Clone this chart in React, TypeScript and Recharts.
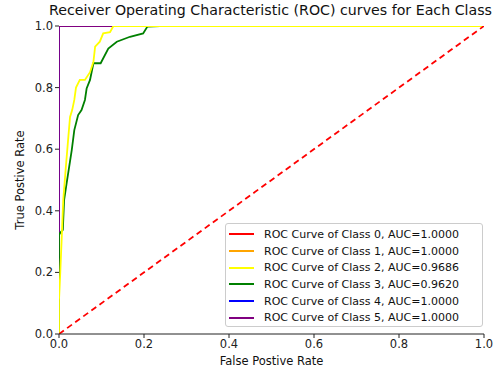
import { LineChart, Line, XAxis, YAxis } from 'recharts';

const classNames = ['Class 0', 'Class 1', 'Class 2', 'Class 3', 'Class 4', 'Class 5'];
const aucValues = ['1.0000', '1.0000', '0.9686', '0.9620', '1.0000', '1.0000'];
const classColors = ['#ff0000', '#ffa500', '#ffff00', '#008000', '#0000ff', '#800080'];

const ticks = [0, 0.2, 0.4, 0.6, 0.8, 1.0];

// perfect classifiers (AUC = 1)
const perfectFpr = [0, 0, 1];
const perfectTpr = [0, 1, 1];

const class2Fpr = [0, 0, 0.003, 0.006, 0.01, 0.016, 0.022, 0.026, 0.031, 0.036, 0.04, 0.049, 0.061, 0.073, 0.081, 0.085, 0.096, 0.104, 0.12, 0.128, 1];
const class2Tpr = [0, 0.11, 0.2, 0.3, 0.435, 0.54, 0.64, 0.705, 0.727, 0.76, 0.8, 0.825, 0.825, 0.85, 0.884, 0.933, 0.949, 0.976, 0.98, 1.0, 1.0];

const class3Fpr = [0, 0, 0.002, 0.009, 0.012, 0.018, 0.03, 0.036, 0.045, 0.053, 0.061, 0.065, 0.073, 0.081, 0.098, 0.116, 0.136, 0.167, 0.198, 0.208, 0.238, 1];
const class3Tpr = [0, 0.32, 0.327, 0.338, 0.435, 0.49, 0.597, 0.662, 0.711, 0.727, 0.76, 0.797, 0.825, 0.879, 0.879, 0.927, 0.949, 0.965, 0.976, 0.998, 1.0, 1.0];

const chanceFpr = [0, 1];
const chanceTpr = [0, 1];

const toPoints = (fpr: number[], tpr: number[]) => fpr.map((x, i) => ({ x, y: tpr[i] }));

const curves = [
  toPoints(perfectFpr, perfectTpr),
  toPoints(perfectFpr, perfectTpr),
  toPoints(class2Fpr, class2Tpr),
  toPoints(class3Fpr, class3Tpr),
  toPoints(perfectFpr, perfectTpr),
  toPoints(perfectFpr, perfectTpr),
];

// draw order so the yellow curve sits on top like the reference
const drawOrder = [0, 1, 4, 5, 3, 2];

const font = '"DejaVu Sans", sans-serif';

function RocLegend() {
  return (
    <div
      style={{
        position: 'absolute',
        left: 225,
        top: 223,
        width: 258,
        height: 104,
        border: '1px solid #cccccc',
        borderRadius: 3,
        background: 'rgba(255,255,255,0.85)',
        fontSize: 11,
        color: '#111',
        paddingTop: 2,
        boxSizing: 'border-box',
      }}
    >
      {classNames.map((name, i) => (
        <div key={name} style={{ display: 'flex', alignItems: 'center', height: 16.7 }}>
          <div style={{ width: 25, height: 2, background: classColors[i], marginLeft: 3, marginRight: 10 }} />
          <span>{`ROC Curve of ${name}, AUC=${aucValues[i]}`}</span>
        </div>
      ))}
    </div>
  );
}

export default function App() {
  return (
    <div style={{ position: 'absolute', left: 0, top: 0, width: 499, height: 374, background: '#fff', fontFamily: font }}>
      <LineChart width={499} height={374} margin={{ top: 26, right: 15, bottom: 0, left: 0 }}>
        <XAxis
          xAxisId="b"
          dataKey="x"
          type="number"
          domain={[0, 1]}
          ticks={ticks}
          tickFormatter={(v: number) => v.toFixed(1)}
          height={40}
          tickSize={4}
          stroke="#222"
          tick={{ fill: '#222', fontSize: 11.5, fontFamily: font }}
          allowDataOverflow
        />
        <XAxis xAxisId="t" orientation="top" type="number" domain={[0, 1]} height={0} tick={false} tickLine={false} stroke="#222" />
        <YAxis
          yAxisId="l"
          type="number"
          domain={[0, 1]}
          ticks={ticks}
          tickFormatter={(v: number) => v.toFixed(1)}
          width={59}
          tickSize={4}
          axisLine={false}
          stroke="#222"
          tick={{ fill: '#222', fontSize: 11.5, fontFamily: font }}
          allowDataOverflow
        />
        <YAxis yAxisId="r" orientation="right" type="number" domain={[0, 1]} width={0} tick={false} tickLine={false} stroke="#222" />
        {drawOrder.map((i) => (
          <Line
            key={classNames[i]}
            xAxisId="b"
            yAxisId="l"
            data={curves[i]}
            dataKey="y"
            type="linear"
            stroke={classColors[i]}
            strokeWidth={1.8}
            dot={false}
            isAnimationActive={false}
          />
        ))}
        <Line
          xAxisId="b"
          yAxisId="l"
          data={toPoints(chanceFpr, chanceTpr)}
          dataKey="y"
          type="linear"
          stroke="#ff0000"
          strokeWidth={1.8}
          strokeDasharray="6 4"
          dot={false}
          isAnimationActive={false}
        />
      </LineChart>
      <div style={{ position: 'absolute', left: 0, width: 541, top: 2, textAlign: 'center', fontSize: 14.2, color: '#111' }}>
        Receiver Operating Characteristic (ROC) curves for Each Class
      </div>
      <div style={{ position: 'absolute', left: 0, width: 543, top: 354, textAlign: 'center', fontSize: 11.5, color: '#111' }}>
        False Postive Rate
      </div>
      <div
        style={{
          position: 'absolute',
          left: 20,
          top: 180,
          transform: 'translate(-50%, -50%) rotate(-90deg)',
          whiteSpace: 'nowrap',
          fontSize: 11.5,
          color: '#111',
        }}
      >
        True Postive Rate
      </div>
      <RocLegend />
    </div>
  );
}
